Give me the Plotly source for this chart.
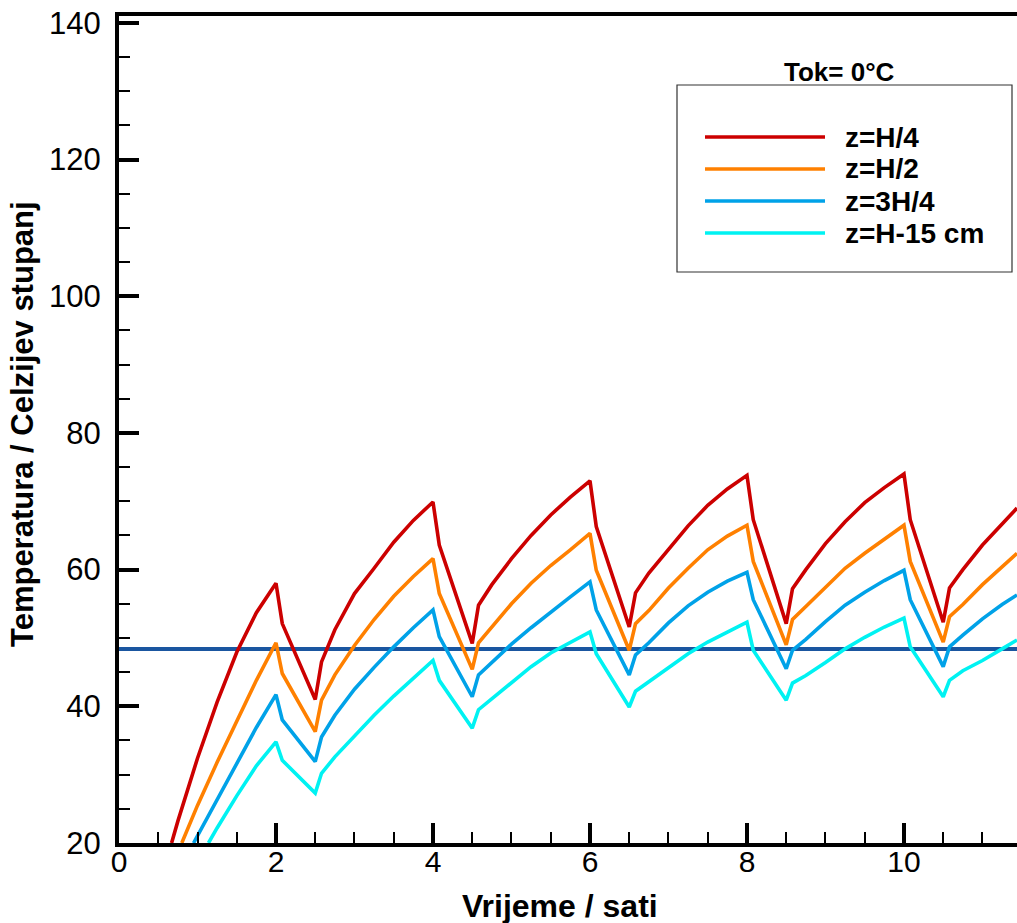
import plotly.graph_objects as go

# ---------------- data ----------------
series_names = ["z=H/4", "z=H/2", "z=3H/4", "z=H-15 cm"]
series_colors = ["#cc0000", "#ff8000", "#00a2e8", "#00f2f2"]

# common time grid after the first peak (hours)
t_cycle = [2.0, 2.08, 2.5, 2.58, 2.75, 3.0, 3.25, 3.5, 3.75,
           4.0, 4.08, 4.5, 4.58, 4.75, 5.0, 5.25, 5.5, 5.75,
           6.0, 6.08, 6.5, 6.58, 6.75, 7.0, 7.25, 7.5, 7.75,
           8.0, 8.08, 8.5, 8.58, 8.75, 9.0, 9.25, 9.5, 9.75,
           10.0, 10.08, 10.5, 10.58, 10.75, 11.0, 11.25, 11.44]

# initial heating (before first peak)
t_start_h4 = [0.67, 0.75, 1.0, 1.25, 1.5, 1.75]
T_start_h4 = [20.0, 23.2, 32.4, 40.6, 47.9, 53.7]
t_start_h2 = [0.80, 1.0, 1.25, 1.5, 1.75]
T_start_h2 = [20.0, 25.5, 31.8, 37.8, 43.8]
t_start_3h4 = [0.95, 1.25, 1.5, 1.75]
T_start_3h4 = [20.0, 26.4, 31.7, 36.9]
t_start_h15 = [1.14, 1.25, 1.5, 1.75]
T_start_h15 = [20.0, 22.2, 26.9, 31.3]

T_h4 = [58.0, 52.1, 41.0, 46.5, 51.2, 56.5, 60.2, 64.0, 67.2,
        69.9, 63.6, 49.2, 54.8, 57.8, 61.6, 65.0, 68.0, 70.6,
        73.0, 66.3, 51.6, 56.6, 59.5, 63.0, 66.4, 69.4, 71.8,
        73.8, 67.3, 52.1, 57.2, 60.0, 63.8, 67.0, 69.8, 72.0,
        74.0, 67.3, 52.3, 57.3, 60.0, 63.6, 66.7, 69.0]
T_h2 = [49.3, 44.8, 36.3, 40.9, 44.6, 48.9, 52.7, 56.1, 59.0,
        61.6, 56.5, 45.4, 49.3, 51.6, 55.0, 58.0, 60.6, 62.9,
        65.3, 59.9, 48.2, 52.1, 54.0, 57.3, 60.2, 62.9, 64.9,
        66.5, 61.2, 49.0, 52.7, 54.6, 57.4, 60.2, 62.4, 64.4,
        66.5, 61.2, 49.4, 53.1, 54.9, 57.8, 60.5, 62.4]
T_3h4 = [41.7, 38.0, 31.9, 35.5, 38.7, 42.5, 45.7, 48.7, 51.5,
         54.1, 50.2, 41.4, 44.6, 46.4, 49.1, 51.5, 53.8, 56.0,
         58.2, 54.1, 44.6, 47.5, 49.3, 52.2, 54.7, 56.7, 58.3,
         59.6, 55.6, 45.5, 48.2, 49.8, 52.4, 54.8, 56.7, 58.4,
         59.9, 55.6, 45.8, 48.7, 50.4, 52.8, 54.9, 56.3]
T_h15 = [34.8, 32.1, 27.3, 30.2, 32.6, 35.7, 38.7, 41.5, 44.1,
         46.7, 43.8, 36.8, 39.5, 41.1, 43.5, 45.8, 47.8, 49.3,
         50.9, 47.7, 39.9, 42.2, 43.6, 45.8, 47.7, 49.4, 50.9,
         52.3, 48.2, 40.9, 43.4, 44.5, 46.4, 48.4, 50.1, 51.6,
         52.9, 48.7, 41.4, 43.8, 45.2, 46.7, 48.4, 49.7]

reference_level = 48.4   # horizontal reference line
x_range = [0, 11.44]
y_range = [20, 141]
x_ticks = [0, 2, 4, 6, 8, 10]
y_ticks = [20, 40, 60, 80, 100, 120, 140]
legend_title = "Tok= 0°C"
x_title = "Vrijeme / sati"
y_title = "Temperatura / Celzijev stupanj"

starts_t = [t_start_h4, t_start_h2, t_start_3h4, t_start_h15]
starts_T = [T_start_h4, T_start_h2, T_start_3h4, T_start_h15]
cycles_T = [T_h4, T_h2, T_3h4, T_h15]

# ---------------- figure ----------------
W, H = 1017, 923
ML, MR, MT, MB = 119, 0, 16, 80
PW, PH = W - ML - MR, H - MT - MB

def px_x(p):
    return (p - ML) / PW

def px_y(p):
    return (H - MB - p) / PH

fig = go.Figure()

fig.add_trace(go.Scatter(
    x=x_range, y=[reference_level, reference_level], mode="lines",
    line=dict(color="#1a56a0", width=4), showlegend=False, hoverinfo="skip"))

for name, color, ts, Ts, Tc in zip(series_names, series_colors, starts_t, starts_T, cycles_T):
    fig.add_trace(go.Scatter(
        x=ts + t_cycle, y=Ts + Tc, mode="lines", name=name,
        line=dict(color=color, width=3.6), showlegend=False))

font_main = "Liberation Sans, Arial, sans-serif"

fig.update_xaxes(
    range=x_range, tickvals=x_ticks, ticks="inside", ticklen=20, tickwidth=4,
    tickcolor="black", showline=True, linewidth=4, linecolor="black",
    mirror=True, showgrid=False, zeroline=False, automargin=False,
    tickfont=dict(family=font_main, size=30, color="black"),
    ticklabelstandoff=-11,
    minor=dict(dtick=0.5, ticks="inside", ticklen=11, tickwidth=2, tickcolor="black", showgrid=False),
)
fig.update_yaxes(
    range=y_range, tickvals=y_ticks, ticks="inside", ticklen=20, tickwidth=4,
    tickcolor="black", showline=True, linewidth=4, linecolor="black",
    mirror=False, showgrid=False, zeroline=False, automargin=False,
    tickfont=dict(family=font_main, size=31, color="black"),
    ticklabelstandoff=8,
    minor=dict(dtick=5, ticks="inside", ticklen=11, tickwidth=2, tickcolor="black", showgrid=False),
)

# custom legend (long sample lines like the original)
shapes = [dict(type="rect", xref="paper", yref="paper",
               x0=px_x(677), x1=px_x(1012), y0=px_y(272), y1=px_y(85),
               line=dict(color="#333333", width=1.2), fillcolor="white", layer="above")]
annotations = [
    dict(xref="paper", yref="paper", x=px_x(839), y=px_y(72),
         text="<b>" + legend_title + "</b>", showarrow=False,
         xanchor="center", yanchor="middle",
         font=dict(family=font_main, size=26, color="black")),
    dict(xref="paper", yref="paper", x=px_x(560), y=px_y(906),
         text="<b>" + x_title + "</b>", showarrow=False,
         xanchor="center", yanchor="middle",
         font=dict(family=font_main, size=32, color="black")),
    dict(xref="paper", yref="paper", x=px_x(23), y=px_y(424),
         text="<b>" + y_title + "</b>", showarrow=False, textangle=-90,
         xanchor="center", yanchor="middle",
         font=dict(family=font_main, size=31, color="black")),
]
row_y = [137, 169, 201, 233]
for name, color, ry in zip(series_names, series_colors, row_y):
    shapes.append(dict(type="line", xref="paper", yref="paper",
                       x0=px_x(705), x1=px_x(825), y0=px_y(ry), y1=px_y(ry),
                       line=dict(color=color, width=3.6), layer="above"))
    annotations.append(dict(xref="paper", yref="paper", x=px_x(843), y=px_y(ry),
                            text="<b>" + name + "</b>", showarrow=False,
                            xanchor="left", yanchor="middle",
                            font=dict(family=font_main, size=28, color="black")))

fig.update_layout(
    width=W, height=H,
    margin=dict(l=ML, r=MR, t=MT, b=MB),
    paper_bgcolor="white", plot_bgcolor="white",
    shapes=shapes, annotations=annotations,
    showlegend=False,
)

fig.write_html(
    "out.html",
    config={"displayModeBar": False},
    post_script="document.body.style.margin='0';document.body.style.overflow='hidden';",
)
